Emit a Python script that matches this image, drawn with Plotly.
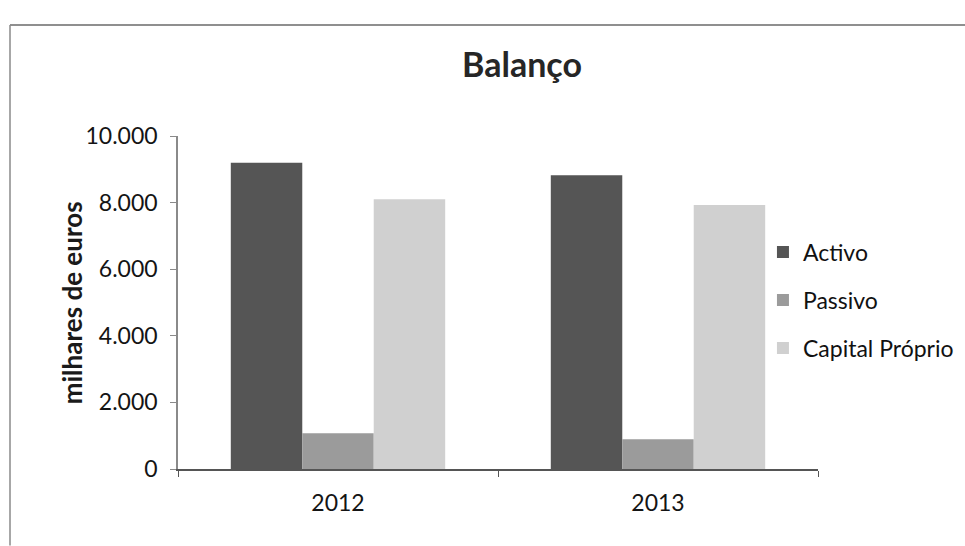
import plotly.graph_objects as go

# Balance sheet figures (thousands of euros)
years = ["2012", "2013"]
activo = [9200, 8820]
passivo = [1070, 890]
capital_proprio = [8100, 7930]

series_names = ["Activo", "Passivo", "Capital Próprio"]
series_values = [activo, passivo, capital_proprio]
series_colors = ["#555555", "#9b9b9b", "#d0d0d0"]

FONT = "Lato, 'Liberation Sans', sans-serif"

fig = go.Figure()
for name, vals, col in zip(series_names, series_values, series_colors):
    fig.add_trace(go.Bar(
        x=years, y=vals, name=name, legendgroup=name,
        marker=dict(color=col, line=dict(width=0)),
    ))

fig.update_layout(
    width=965, height=546,
    margin=dict(l=178, r=147, t=136, b=77, autoexpand=False),
    paper_bgcolor="white", plot_bgcolor="white",
    barmode="group", bargap=0.33, bargroupgap=0,
    separators=",.",
    font=dict(family=FONT, color="#1a1a1a"),
    title=dict(text="<b>Balanço</b>", x=0.541, xanchor="center",
               y=0.881, yanchor="middle",
               font=dict(size=34, family=FONT, color="#262626")),
    legend=dict(x=0.914, xanchor="left", y=0.507, yanchor="middle",
                font=dict(size=23, family=FONT, color="#111111"),
                traceorder="grouped", tracegroupgap=15,
                bgcolor="rgba(0,0,0,0)"),
    showlegend=True,
)

fig.update_yaxes(
    range=[0, 10000], tickvals=[0, 2000, 4000, 6000, 8000, 10000],
    tickformat=",d", showgrid=False, zeroline=False, automargin=False,
    showline=True, linecolor="#8a8a8a", linewidth=1.5,
    ticks="outside", ticklen=6, tickcolor="#8a8a8a", ticklabelstandoff=8,
    tickfont=dict(size=23, family=FONT, color="#141414"),
)
fig.update_xaxes(
    showgrid=False, showline=True, linecolor="#555555", linewidth=1.5,
    automargin=False,
    ticks="outside", ticklen=6, tickcolor="#555555", tickson="boundaries",
    ticklabelstandoff=13,
    tickfont=dict(size=23, family=FONT, color="#141414"),
)

# y-axis title
fig.add_annotation(text="<b>milhares de euros</b>", textangle=-90,
                   xref="paper", yref="paper", x=-0.166, y=0.5,
                   xanchor="center", yanchor="middle", showarrow=False,
                   font=dict(size=26, family=FONT, color="#1a1a1a"))

# chart frame edges
fig.add_shape(type="line", xref="paper", yref="paper",
              x0=-0.2625, x1=1.3, y0=1.333, y1=1.333,
              line=dict(color="#6a6a6a", width=1.5))
fig.add_shape(type="line", xref="paper", yref="paper",
              x0=-0.2625, x1=-0.2625, y0=1.333, y1=-0.23,
              line=dict(color="#8a8a8a", width=1.5))

fig.write_html("out.html")
